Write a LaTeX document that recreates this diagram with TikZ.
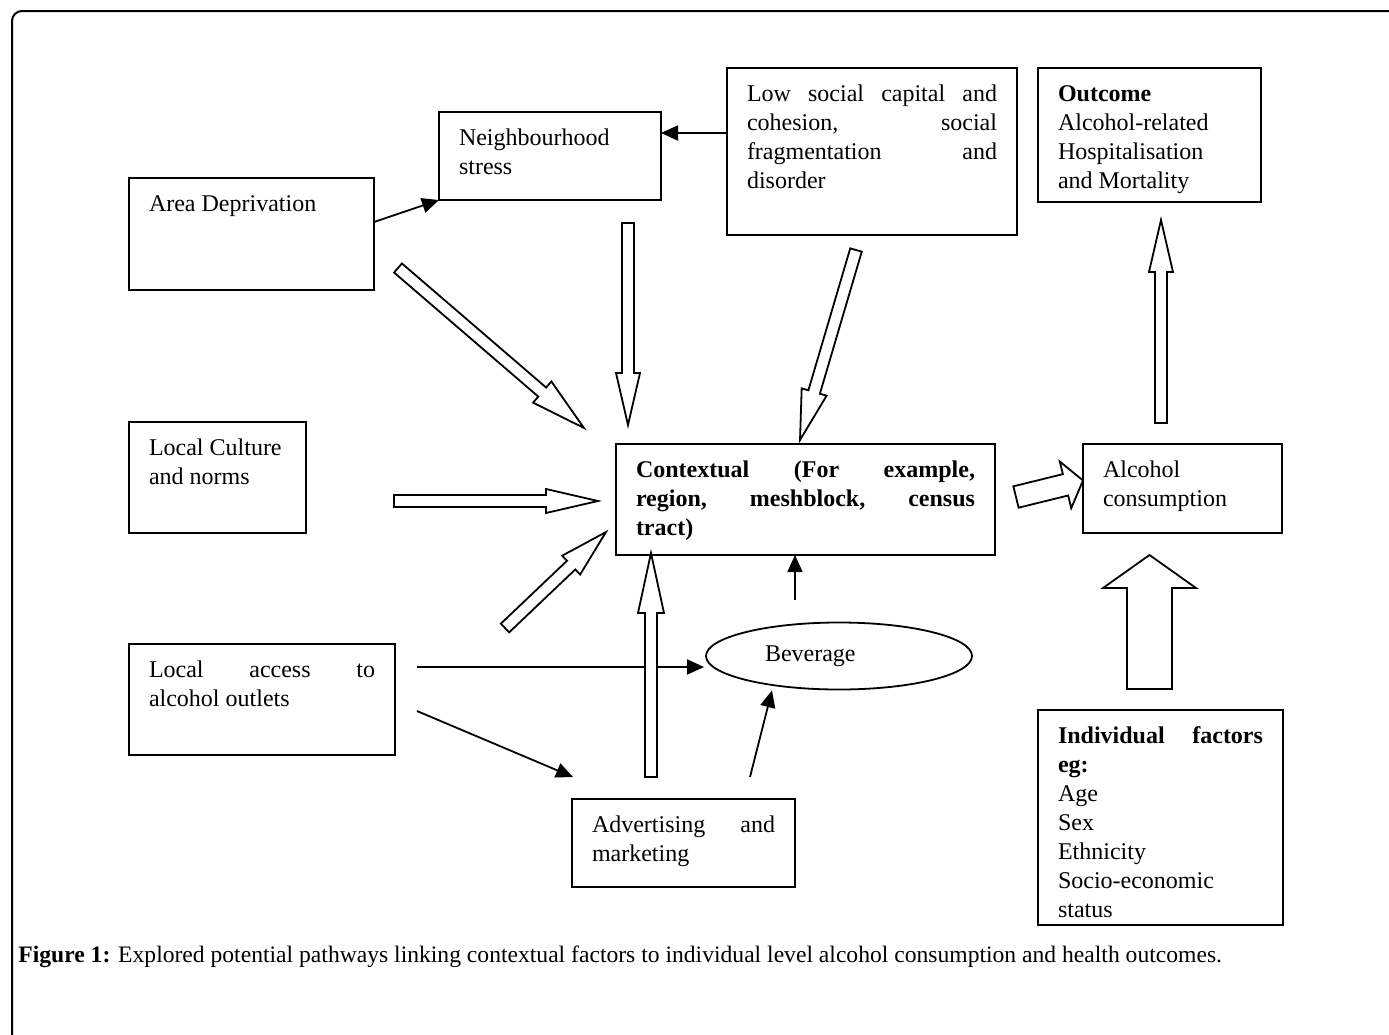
\documentclass[tikz,border=0pt]{standalone}
\usepackage{fontspec}
\setmainfont{Liberation Serif}
\usetikzlibrary{arrows.meta,calc,shapes.geometric}
% text block inside a box: width and height in px (1px = 0.5pt)
\newcommand\bxtext[3]{\parbox[c][\dimexpr #2pt/2\relax][t]{\dimexpr (#1pt-40pt)/2\relax}{\vspace*{6.35pt}\strut #3}}
% hollow block arrow: tail, tip, shaft width, head width, head length (px)
\newcommand\blockarrow[5]{%
  \path let \p1=(#1), \p2=(#2) in \pgfextra{%
    \pgfmathsetmacro\baang{atan2(\y2-\y1,\x2-\x1)}%
    \pgfmathsetmacro\balen{veclen(\x2-\x1,\y2-\y1)}%
    \xdef\BAang{\baang}\xdef\BAlen{\balen}%
    \xdef\BAx{\x1}\xdef\BAy{\y1}};
  \begin{scope}[shift={(\BAx,\BAy)},rotate=\BAang]
    \draw[hollow] (0pt,{-#3*0.25pt}) -- ({\BAlen pt-#5*0.5pt},{-#3*0.25pt})
      -- ({\BAlen pt-#5*0.5pt},{-#4*0.25pt}) -- (\BAlen pt,0pt)
      -- ({\BAlen pt-#5*0.5pt},{#4*0.25pt}) -- ({\BAlen pt-#5*0.5pt},{#3*0.25pt})
      -- (0pt,{#3*0.25pt}) -- cycle;
  \end{scope}}
\tikzset{
  box/.style={draw, line width=0.9pt, anchor=north west, inner xsep=10pt, inner ysep=0pt, outer sep=0pt,
    font=\fontsize{12pt}{14.5pt}\selectfont},
  arr/.style={line width=0.9pt, -{Triangle[length=8.5pt,width=7.5pt]}},
  hollow/.style={draw, line width=0.9pt, fill=white, line join=miter},
}
\begin{document}
\begin{tikzpicture}[x=0.5pt,y=-0.5pt]
\useasboundingbox (0,0) rectangle (1389,1035);
\draw[line width=1pt, rounded corners=5pt] (1389,11) -- (12,11) -- (12,1035);

\node[box] (area) at (129,178) {\bxtext{245}{112}{Area Deprivation}};
\node[box] (nb) at (439,112) {\bxtext{222}{88}{Neighbourhood\\stress}};
\node[box] (low) at (727,68) {\bxtext{290}{167}{Low social capital and\linebreak cohesion, social\linebreak fragmentation and\linebreak disorder}};
\node[box] (out) at (1038,68) {\bxtext{223}{134}{\textbf{Outcome}\\Alcohol-related\\Hospitalisation\\and Mortality}};
\node[box] (cult) at (129,422) {\bxtext{177}{111}{Local Culture\\and norms}};
\node[box] (ctx) at (616,444) {\bxtext{379}{111}{\bfseries Contextual (For example,\linebreak region, meshblock, census\linebreak tract)}};
\node[box] (alc) at (1083,444) {\bxtext{199}{89}{Alcohol\\consumption}};
\node[box] (acc) at (129,644) {\bxtext{266}{111}{Local access to\linebreak alcohol outlets}};
\node[box] (adv) at (572,799) {\bxtext{223}{88}{Advertising and\linebreak marketing}};
\node[box] (ind) at (1038,710) {\bxtext{245}{215}{\textbf{Individual factors\linebreak eg:}\\Age\\Sex\\Ethnicity\\Socio-economic\\status}};
\node[ellipse, draw, line width=0.9pt, minimum width=133pt, minimum height=33.5pt, inner sep=0pt,
  font=\fontsize{12pt}{14.5pt}\selectfont] (bev) at (839,656) {\makebox[0pt][l]{\hspace*{-37pt}Beverage}};

% thin arrows
\draw[arr] ($(area.north east)+(0,44)$) -- (nb.south west);
\draw[arr] ($(low.north west)+(0,65)$) -- ($(nb.north east)+(0,21)$);
\draw[arr] ($(acc.north east)+(22,23)$) -- ($(bev.west)+(-1,11)$);
\draw[arr] ($(acc.north east)+(22,67)$) -- ($(adv.north west)+(1,-22)$);
\draw[arr] ($(adv.north west)+(178,-22)$) -- ($(bev.south)+(-67,0)$);
\draw[arr] ($(ctx.south west)+(179,45)$) -- ($(ctx.south west)+(179,0)$);

% hollow block arrows
\coordinate (aT) at (398,268);   \coordinate (aH) at (584,428);
\coordinate (bT) at (628,223);   \coordinate (bH) at (628,425);
\coordinate (cT) at (856,250);   \coordinate (cH) at ($(ctx.north west)+(184,-4)$);
\coordinate (dT) at (394,501);   \coordinate (dH) at (598,501);
\coordinate (eT) at (505,628);   \coordinate (eH) at (606,532);
\coordinate (fT) at (651,777);   \coordinate (fH) at ($(ctx.south west)+(35,-2)$);
\coordinate (gT) at (1016,497);  \coordinate (gH) at ($(alc.west)+(0,-8)$);
\coordinate (hT) at (1161,423);  \coordinate (hH) at (1161,220);
\coordinate (iT) at (1149.5,689); \coordinate (iH) at (1149.5,555);
\blockarrow{aT}{aH}{12}{28}{55}
\blockarrow{bT}{bH}{12}{24}{52}
\blockarrow{cT}{cH}{12}{26}{50}
\blockarrow{dT}{dH}{12}{24}{52}
\blockarrow{eT}{eH}{12}{26}{48}
\blockarrow{fT}{fH}{12}{26}{60}
\blockarrow{gT}{gH}{22}{48}{18}
\blockarrow{hT}{hH}{12}{24}{52}
\blockarrow{iT}{iH}{45}{93}{33}

\node[anchor=base west, inner sep=0pt, font=\fontsize{11.8pt}{13pt}\selectfont] (cap) at (18,962)
  {\textbf{Figure 1:} Explored potential pathways linking contextual factors to individual level alcohol consumption and health outcomes.};
\end{tikzpicture}
\end{document}
